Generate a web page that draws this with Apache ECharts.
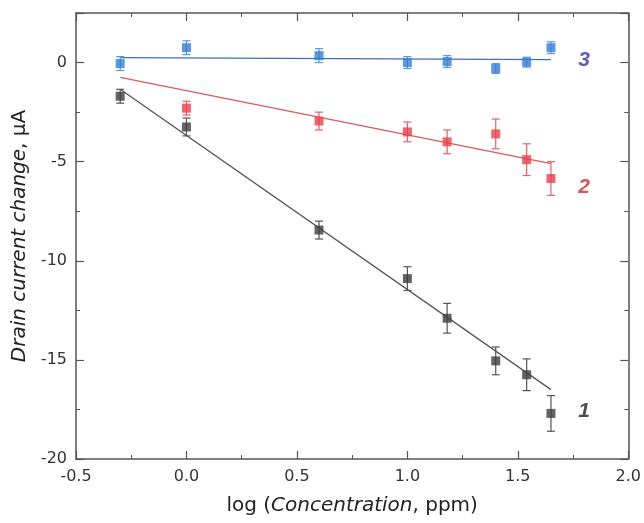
<!DOCTYPE html>
<html><head><meta charset="utf-8">
<script src="https://cdn.jsdelivr.net/npm/echarts@6/dist/echarts.min.js"></script>
<style>html,body{margin:0;padding:0;background:#fff}#c{width:644px;height:523px}</style>
</head><body><div id="c"></div>
<script>
const logConc = [-0.3, 0.0, 0.6, 1.0, 1.18, 1.4, 1.54, 1.65];
const s1Values = [-1.7, -3.25, -8.45, -10.9, -12.9, -15.05, -15.75, -17.7];
const s1Err = [0.35, 0.45, 0.45, 0.6, 0.75, 0.7, 0.8, 0.9];
const logConc2 = [0.0, 0.6, 1.0, 1.18, 1.4, 1.54, 1.65];
const s2Values = [-2.3, -2.95, -3.5, -4.0, -3.6, -4.9, -5.85];
const s2Err = [0.35, 0.45, 0.5, 0.6, 0.75, 0.8, 0.85];
const s3Values = [-0.05, 0.75, 0.35, 0.0, 0.05, -0.3, 0.02, 0.75];
const s3Err = [0.35, 0.35, 0.35, 0.3, 0.3, 0.25, 0.25, 0.3];
const fit1 = [[-0.3, -1.35], [1.65, -16.5]];
const fit2 = [[-0.3, -0.75], [1.65, -5.1]];
const fit3 = [[-0.3, 0.25], [1.65, 0.15]];
const seriesLabels = [{ text: '1', x: 1.8, y: -17.6 }, { text: '2', x: 1.8, y: -6.3 }, { text: '3', x: 1.8, y: 0.1 }];
const xTicks = [-0.5, 0.0, 0.5, 1.0, 1.5, 2.0];
const yTicks = [-20, -15, -10, -5, 0];

const C1 = '#3d3d3d', C2 = '#e8414a', C3 = '#2f7fd6';
const L1 = '#555555', L2 = '#e05a5a', L3 = '#3a72b8';
const axisColor = '#555';
const font = 'DejaVu Sans, sans-serif';

function pts(xs, ys) { return xs.map((x, i) => [x, ys[i]]); }
function errData(xs, ys, es) { return xs.map((x, i) => [x, ys[i] - es[i], ys[i] + es[i]]); }
function errSeries(data, color) {
  return {
    type: 'custom', xAxisIndex: 0, yAxisIndex: 0, z: 2,
    data: data,
    renderItem: function (params, api) {
      const x = api.value(0);
      const lo = api.coord([x, api.value(1)]);
      const hi = api.coord([x, api.value(2)]);
      const w = 4;
      const st = { stroke: color, lineWidth: 1.2 };
      return { type: 'group', children: [
        { type: 'line', shape: { x1: lo[0], y1: lo[1], x2: hi[0], y2: hi[1] }, style: st },
        { type: 'line', shape: { x1: lo[0] - w, y1: lo[1], x2: lo[0] + w, y2: lo[1] }, style: st },
        { type: 'line', shape: { x1: hi[0] - w, y1: hi[1], x2: hi[0] + w, y2: hi[1] }, style: st }
      ]};
    }
  };
}
const labelColors = { '1': '#222', '2': '#d52a2a', '3': '#2f33a8' };

const baseX = {
  type: 'value', min: -0.5, max: 2.0, interval: 0.5,
  axisLine: { show: true, onZero: false, lineStyle: { color: axisColor, width: 1.5 } },
  axisTick: { show: true, inside: true, length: 8, lineStyle: { color: axisColor, width: 1.2 } },
  minorTick: { show: true, splitNumber: 2, length: 4, lineStyle: { color: axisColor, width: 1 } },
  splitLine: { show: false }
};
function yAx(pos, interval, major) {
  return {
    type: 'value', min: -20, max: 2.5, interval: interval, position: pos,
    axisLine: { show: major, onZero: false, lineStyle: { color: axisColor, width: 1.5 } },
    axisTick: { show: true, inside: true, length: major ? 8 : 4, lineStyle: { color: axisColor, width: major ? 1.2 : 1 } },
    splitLine: { show: false }, axisLabel: { show: false }
  };
}
const yMain = yAx('left', 5, true);
yMain.axisLabel = { show: true, margin: 9, color: '#333', fontSize: 16, fontFamily: font,
  formatter: v => (yTicks.indexOf(v) >= 0 ? String(v) : '') };
yMain.name = '{i|Drain current change}{n|, μA}';
yMain.nameLocation = 'middle';
yMain.nameGap = 42;
yMain.nameTextStyle = { rich: {
  n: { fontSize: 20, fontFamily: font, color: '#222' },
  i: { fontSize: 20, fontFamily: font, color: '#222', fontStyle: 'italic' } } };

const chart = echarts.init(document.getElementById('c'));
chart.setOption({
  animation: false,
  backgroundColor: '#fff',
  grid: { left: 76, right: 14, top: 13, bottom: 64 },
  xAxis: [
    Object.assign({}, baseX, {
      position: 'bottom',
      axisLabel: { show: true, margin: 10, color: '#333', fontSize: 16, fontFamily: font,
        formatter: v => (xTicks.some(t => Math.abs(t - v) < 1e-9) ? v.toFixed(1) : '') },
      name: '{n|log (}{i|Concentration}{n|, ppm)}', nameLocation: 'middle', nameGap: 37,
      nameTextStyle: { rich: {
        n: { fontSize: 20, fontFamily: font, color: '#222' },
        i: { fontSize: 20, fontFamily: font, color: '#222', fontStyle: 'italic' } } }
    }),
    Object.assign({}, baseX, { position: 'top', axisLabel: { show: false } })
  ],
  yAxis: [yMain, yAx('left', 2.5, false), yAx('right', 5, true), yAx('right', 2.5, false)],
  series: [
    { type: 'line', data: fit1, symbol: 'none', lineStyle: { color: L1, width: 1.3 }, z: 1 },
    { type: 'line', data: fit2, symbol: 'none', lineStyle: { color: L2, width: 1.3 }, z: 1 },
    { type: 'line', data: fit3, symbol: 'none', lineStyle: { color: L3, width: 1.3 }, z: 1 },
    errSeries(errData(logConc, s1Values, s1Err), '#555'),
    errSeries(errData(logConc2, s2Values, s2Err), '#e46068'),
    errSeries(errData(logConc, s3Values, s3Err), '#5a97de'),
    { type: 'scatter', data: pts(logConc2, s2Values), symbol: 'rect', symbolSize: 9, itemStyle: { color: C2 }, z: 3 },
    { type: 'scatter', data: pts(logConc, s1Values), symbol: 'rect', symbolSize: 9, itemStyle: { color: C1 }, z: 3 },
    { type: 'scatter', data: pts(logConc, s3Values), symbol: 'rect', symbolSize: 9, itemStyle: { color: C3 }, z: 3 },
    { type: 'scatter', symbolSize: 0, z: 4,
      data: seriesLabels.map(l => ({ value: [l.x, l.y], name: l.text,
        label: { show: true, position: 'inside', formatter: l.text, color: labelColors[l.text],
          fontSize: 21, fontWeight: 'bold', fontStyle: 'italic', fontFamily: 'Liberation Sans, Arial, sans-serif' } })) }
  ]
});
</script></body></html>
